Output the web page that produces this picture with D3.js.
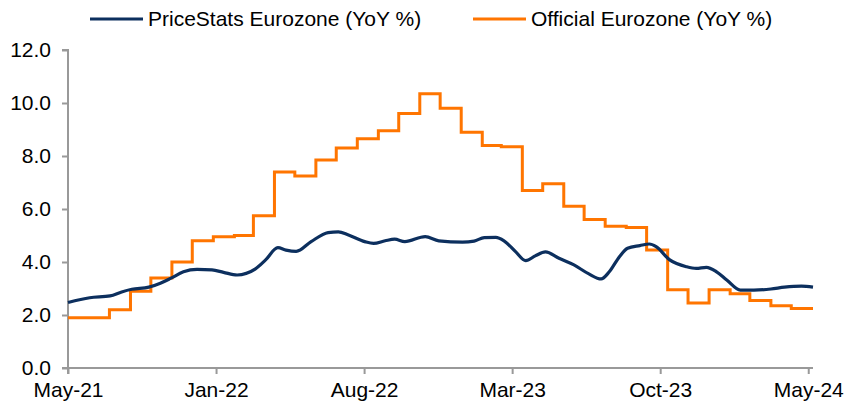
<!DOCTYPE html>
<html>
<head>
<meta charset="utf-8">
<script src="https://cdn.jsdelivr.net/npm/d3@7"></script>
<style>
  body { margin: 0; background: #fff; }
  text { font-family: "Liberation Sans", Arial, sans-serif; fill: #000; }
</style>
</head>
<body>
<div id="chart"></div>
<script>
// PriceStats daily index
const priceStatsDates = ["2021-05-31","2021-07-02","2021-08-01","2021-08-18","2021-09-02","2021-09-27","2021-10-14","2021-10-29","2021-11-17","2021-12-07","2021-12-29","2022-01-15","2022-02-04","2022-03-03","2022-03-18","2022-04-05","2022-04-17","2022-05-02","2022-05-24","2022-06-18","2022-07-03","2022-07-18","2022-08-11","2022-08-24","2022-09-10","2022-09-24","2022-10-09","2022-11-08","2022-11-28","2023-01-02","2023-01-19","2023-02-03","2023-02-20","2023-03-04","2023-03-21","2023-04-05","2023-04-19","2023-05-04","2023-05-24","2023-06-15","2023-07-07","2023-07-25","2023-08-06","2023-08-21","2023-09-02","2023-09-20","2023-10-04","2023-10-14","2023-11-03","2023-11-28","2023-12-12","2023-12-27","2024-01-11","2024-01-26","2024-02-15","2024-03-06","2024-03-31","2024-04-20","2024-05-15","2024-06-01"];
const priceStatsValues = [2.47,2.65,2.72,2.87,2.97,3.05,3.20,3.38,3.63,3.72,3.70,3.61,3.51,3.74,4.08,4.54,4.45,4.40,4.77,5.11,5.14,5.02,4.77,4.70,4.80,4.86,4.77,4.96,4.80,4.75,4.79,4.92,4.93,4.80,4.39,4.05,4.23,4.38,4.14,3.89,3.55,3.36,3.63,4.20,4.52,4.62,4.68,4.58,4.08,3.82,3.76,3.80,3.63,3.32,2.94,2.94,2.98,3.05,3.09,3.05];

// official monthly prints, shown from the end of the reference month
const officialMonths = ["2021-05","2021-06","2021-07","2021-08","2021-09","2021-10","2021-11","2021-12","2022-01","2022-02","2022-03","2022-04","2022-05","2022-06","2022-07","2022-08","2022-09","2022-10","2022-11","2022-12","2023-01","2023-02","2023-03","2023-04","2023-05","2023-06","2023-07","2023-08","2023-09","2023-10","2023-11","2023-12","2024-01","2024-02","2024-03","2024-04"];
const officialValues = [1.9,1.9,2.2,2.9,3.4,4.0,4.8,4.95,5.0,5.75,7.4,7.25,7.85,8.3,8.65,8.95,9.6,10.35,9.8,8.9,8.4,8.35,6.7,6.95,6.1,5.6,5.35,5.3,4.45,2.95,2.45,2.95,2.8,2.55,2.35,2.25];

const xTickDates = ["2021-05-31","2022-01-04","2022-08-10","2023-03-16","2023-10-20","2024-05-25"];
const yTicks = [0, 2, 4, 6, 8, 10, 12];
const seriesNames = ["PriceStats Eurozone (YoY %)", "Official Eurozone (YoY %)"];

const width = 844, height = 404;
const margin = {top: 50, right: 36, bottom: 36, left: 68};
const parse = d3.timeParse("%Y-%m-%d");
const parseMonth = d3.timeParse("%Y-%m");
const endDate = parse("2024-06-01");
const fontSize = "21px";

const blue = "#0c2f5e", orange = "#ff7500", axisColor = "#999999";

const svg = d3.select("#chart").append("svg")
  .attr("width", width)
  .attr("height", height);

const x = d3.scaleTime()
  .domain([parse("2021-05-31"), endDate])
  .range([margin.left, width - margin.right + 5]);

const y = d3.scaleLinear()
  .domain([0, 12])
  .range([height - margin.bottom, margin.top]);

// axes
const yAxis = svg.append("g")
  .attr("transform", `translate(${margin.left},0)`)
  .call(d3.axisLeft(y).tickValues(yTicks).tickSize(6).tickPadding(11).tickFormat(d3.format(".1f")));

const xAxis = svg.append("g")
  .attr("transform", `translate(0,${y(0)})`)
  .call(d3.axisBottom(x).tickValues(xTickDates.map(parse)).tickSize(6).tickPadding(3).tickFormat(d3.timeFormat("%b-%y")));

[yAxis, xAxis].forEach(g => {
  g.select(".domain").attr("stroke", axisColor).attr("stroke-width", 2);
  g.selectAll(".tick line").attr("stroke", axisColor).attr("stroke-width", 2);
  g.selectAll("text").style("font-size", fontSize).attr("fill", "#000");
});
xAxis.selectAll("text").attr("dy", "0.95em");
yAxis.select(".domain").attr("d", `M-6,${y(12)}H0V${y(0)}H-6`);
xAxis.select(".domain").attr("d", `M${x.range()[0]},6V0H${x.range()[1]}`);

// official series as steps
const official = officialMonths.map((m, i) => ({
  date: d3.timeDay.offset(d3.timeMonth.offset(parseMonth(m), 1), -1),
  value: officialValues[i]
}));
official.push({date: endDate, value: officialValues[officialValues.length - 1]});

const priceStats = priceStatsDates.map((d, i) => ({date: parse(d), value: priceStatsValues[i]}));

svg.append("path")
  .datum(official)
  .attr("fill", "none")
  .attr("stroke", orange)
  .attr("stroke-width", 3)
  .attr("d", d3.line().x(d => x(d.date)).y(d => y(d.value)).curve(d3.curveStepAfter));

svg.append("path")
  .datum(priceStats)
  .attr("fill", "none")
  .attr("stroke", blue)
  .attr("stroke-width", 3.2)
  .attr("d", d3.line().x(d => x(d.date)).y(d => y(d.value)).curve(d3.curveMonotoneX));

// legend
const legend = svg.append("g");
const legendItems = [
  {name: seriesNames[0], color: blue, x: 90},
  {name: seriesNames[1], color: orange, x: 473}
];
legendItems.forEach(item => {
  legend.append("line")
    .attr("x1", item.x).attr("x2", item.x + 53)
    .attr("y1", 19).attr("y2", 19)
    .attr("stroke", item.color).attr("stroke-width", 3);
  legend.append("text")
    .attr("x", item.x + 58).attr("y", 26)
    .style("font-size", fontSize)
    .text(item.name);
});
</script>
</body>
</html>
